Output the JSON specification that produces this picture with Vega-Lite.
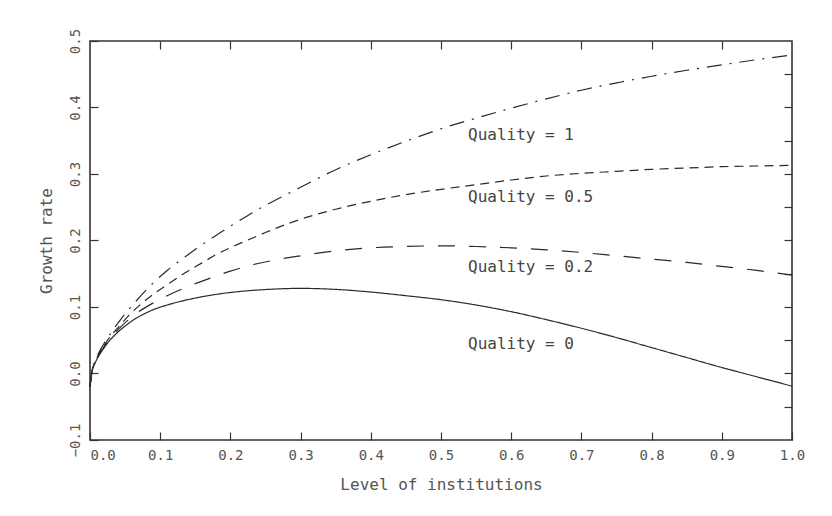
{
  "$schema": "https://vega.github.io/schema/vega-lite/v6.json",
  "width": 702,
  "height": 399,
  "autosize": {"type": "none"},
  "padding": {"left": 90, "top": 41, "right": 40, "bottom": 76},
  "background": "white",
  "config": {
    "view": {"stroke": "#333333", "strokeWidth": 1.6},
    "font": "DejaVu Sans Mono",
    "axis": {
      "grid": false,
      "domain": false,
      "tickSize": -8,
      "tickColor": "#333333",
      "tickWidth": 1.2,
      "labelColor": "#555555",
      "labelFont": "DejaVu Sans Mono",
      "labelFontSize": 14,
      "titleColor": "#555555",
      "titleFont": "DejaVu Sans Mono",
      "titleFontSize": 16,
      "titleFontWeight": "normal"
    }
  },
  "datasets": {
    "curves": [
      {"q": "0", "x": 0, "y": -0.02}, {"q": "0", "x": 0.003, "y": 0.003}, {"q": "0", "x": 0.007, "y": 0.015},
      {"q": "0", "x": 0.014, "y": 0.029}, {"q": "0", "x": 0.021, "y": 0.04}, {"q": "0", "x": 0.03, "y": 0.052},
      {"q": "0", "x": 0.04, "y": 0.0625}, {"q": "0", "x": 0.052, "y": 0.073}, {"q": "0", "x": 0.064, "y": 0.082},
      {"q": "0", "x": 0.076, "y": 0.089}, {"q": "0", "x": 0.088, "y": 0.095}, {"q": "0", "x": 0.11, "y": 0.103},
      {"q": "0", "x": 0.135, "y": 0.11}, {"q": "0", "x": 0.16, "y": 0.1155}, {"q": "0", "x": 0.183, "y": 0.1195},
      {"q": "0", "x": 0.215, "y": 0.1235}, {"q": "0", "x": 0.249, "y": 0.1262}, {"q": "0", "x": 0.3, "y": 0.128},
      {"q": "0", "x": 0.35, "y": 0.1265}, {"q": "0", "x": 0.4, "y": 0.1225},
      {"q": "0", "x": 0.45, "y": 0.117}, {"q": "0", "x": 0.5, "y": 0.111}, {"q": "0", "x": 0.55, "y": 0.103},
      {"q": "0", "x": 0.6, "y": 0.093}, {"q": "0", "x": 0.65, "y": 0.081}, {"q": "0", "x": 0.7, "y": 0.068},
      {"q": "0", "x": 0.75, "y": 0.054}, {"q": "0", "x": 0.8, "y": 0.039}, {"q": "0", "x": 0.85, "y": 0.024},
      {"q": "0", "x": 0.9, "y": 0.009}, {"q": "0", "x": 0.95, "y": -0.005}, {"q": "0", "x": 1.0, "y": -0.019},

      {"q": "0.2", "x": 0, "y": -0.02}, {"q": "0.2", "x": 0.003, "y": 0.004}, {"q": "0.2", "x": 0.007, "y": 0.016},
      {"q": "0.2", "x": 0.014, "y": 0.03}, {"q": "0.2", "x": 0.021, "y": 0.042}, {"q": "0.2", "x": 0.03, "y": 0.054},
      {"q": "0.2", "x": 0.04, "y": 0.066}, {"q": "0.2", "x": 0.055, "y": 0.081}, {"q": "0.2", "x": 0.069, "y": 0.0925},
      {"q": "0.2", "x": 0.09, "y": 0.106}, {"q": "0.2", "x": 0.116, "y": 0.12}, {"q": "0.2", "x": 0.145, "y": 0.133},
      {"q": "0.2", "x": 0.173, "y": 0.144}, {"q": "0.2", "x": 0.2, "y": 0.154}, {"q": "0.2", "x": 0.23, "y": 0.163},
      {"q": "0.2", "x": 0.26, "y": 0.17}, {"q": "0.2", "x": 0.3, "y": 0.177}, {"q": "0.2", "x": 0.347, "y": 0.184},
      {"q": "0.2", "x": 0.4, "y": 0.189}, {"q": "0.2", "x": 0.45, "y": 0.191}, {"q": "0.2", "x": 0.5, "y": 0.192},
      {"q": "0.2", "x": 0.55, "y": 0.191}, {"q": "0.2", "x": 0.6, "y": 0.189}, {"q": "0.2", "x": 0.65, "y": 0.186},
      {"q": "0.2", "x": 0.7, "y": 0.182}, {"q": "0.2", "x": 0.75, "y": 0.177}, {"q": "0.2", "x": 0.8, "y": 0.172},
      {"q": "0.2", "x": 0.85, "y": 0.167}, {"q": "0.2", "x": 0.9, "y": 0.161}, {"q": "0.2", "x": 0.95, "y": 0.155},
      {"q": "0.2", "x": 1.0, "y": 0.148},

      {"q": "0.5", "x": 0, "y": -0.02}, {"q": "0.5", "x": 0.003, "y": 0.005}, {"q": "0.5", "x": 0.007, "y": 0.017},
      {"q": "0.5", "x": 0.014, "y": 0.032}, {"q": "0.5", "x": 0.021, "y": 0.044}, {"q": "0.5", "x": 0.03, "y": 0.057},
      {"q": "0.5", "x": 0.04, "y": 0.069}, {"q": "0.5", "x": 0.055, "y": 0.087}, {"q": "0.5", "x": 0.07, "y": 0.102},
      {"q": "0.5", "x": 0.09, "y": 0.119}, {"q": "0.5", "x": 0.112, "y": 0.135}, {"q": "0.5", "x": 0.135, "y": 0.151},
      {"q": "0.5", "x": 0.159, "y": 0.166}, {"q": "0.5", "x": 0.18, "y": 0.179}, {"q": "0.5", "x": 0.206, "y": 0.192},
      {"q": "0.5", "x": 0.23, "y": 0.203}, {"q": "0.5", "x": 0.25, "y": 0.212}, {"q": "0.5", "x": 0.3, "y": 0.232},
      {"q": "0.5", "x": 0.35, "y": 0.247}, {"q": "0.5", "x": 0.4, "y": 0.259}, {"q": "0.5", "x": 0.45, "y": 0.269},
      {"q": "0.5", "x": 0.5, "y": 0.277}, {"q": "0.5", "x": 0.55, "y": 0.284}, {"q": "0.5", "x": 0.6, "y": 0.291},
      {"q": "0.5", "x": 0.65, "y": 0.297}, {"q": "0.5", "x": 0.7, "y": 0.301}, {"q": "0.5", "x": 0.75, "y": 0.304},
      {"q": "0.5", "x": 0.8, "y": 0.307}, {"q": "0.5", "x": 0.85, "y": 0.309}, {"q": "0.5", "x": 0.9, "y": 0.311},
      {"q": "0.5", "x": 0.95, "y": 0.312}, {"q": "0.5", "x": 1.0, "y": 0.313},

      {"q": "1", "x": 0, "y": -0.02}, {"q": "1", "x": 0.003, "y": 0.005}, {"q": "1", "x": 0.007, "y": 0.018},
      {"q": "1", "x": 0.014, "y": 0.034}, {"q": "1", "x": 0.021, "y": 0.047}, {"q": "1", "x": 0.03, "y": 0.061},
      {"q": "1", "x": 0.04, "y": 0.076}, {"q": "1", "x": 0.055, "y": 0.096}, {"q": "1", "x": 0.07, "y": 0.114},
      {"q": "1", "x": 0.088, "y": 0.134}, {"q": "1", "x": 0.11, "y": 0.155}, {"q": "1", "x": 0.135, "y": 0.175},
      {"q": "1", "x": 0.16, "y": 0.194}, {"q": "1", "x": 0.183, "y": 0.21}, {"q": "1", "x": 0.21, "y": 0.228},
      {"q": "1", "x": 0.24, "y": 0.247}, {"q": "1", "x": 0.27, "y": 0.264}, {"q": "1", "x": 0.3, "y": 0.28},
      {"q": "1", "x": 0.347, "y": 0.305}, {"q": "1", "x": 0.4, "y": 0.329}, {"q": "1", "x": 0.465, "y": 0.355},
      {"q": "1", "x": 0.5, "y": 0.368}, {"q": "1", "x": 0.56, "y": 0.387}, {"q": "1", "x": 0.6, "y": 0.399},
      {"q": "1", "x": 0.65, "y": 0.413}, {"q": "1", "x": 0.7, "y": 0.426}, {"q": "1", "x": 0.755, "y": 0.438},
      {"q": "1", "x": 0.8, "y": 0.447}, {"q": "1", "x": 0.85, "y": 0.456}, {"q": "1", "x": 0.9, "y": 0.464},
      {"q": "1", "x": 0.95, "y": 0.472}, {"q": "1", "x": 1.0, "y": 0.479}
    ],
    "labels": [
      {"x": 0.5385, "y": 0.358, "text": "Quality = 1"},
      {"x": 0.5385, "y": 0.265, "text": "Quality = 0.5"},
      {"x": 0.5385, "y": 0.16, "text": "Quality = 0.2"},
      {"x": 0.5385, "y": 0.045, "text": "Quality = 0"}
    ]
  },
  "layer": [
    {
      "layer": [
        {
          "data": {"name": "curves"},
          "mark": {"type": "line", "interpolate": "monotone", "strokeWidth": 1.2, "color": "#2a2a2a"},
          "encoding": {
            "x": {
              "field": "x", "type": "quantitative",
              "scale": {"domain": [0, 1], "nice": false, "zero": false},
              "axis": {
                "orient": "bottom",
                "values": [0, 0.1, 0.2, 0.3, 0.4, 0.5, 0.6, 0.7, 0.8, 0.9, 1.0],
                "format": ".1f",
                "labelPadding": 16,
                "labelAlign": {"condition": {"test": "datum.value == 0", "value": "left"}, "value": "center"},
                "title": "Level of institutions",
                "titlePadding": 14
              }
            },
            "y": {
              "field": "y", "type": "quantitative",
              "scale": {"domain": [-0.1, 0.5], "nice": false, "zero": false},
              "axis": {
                "orient": "left",
                "values": [-0.1, -0.05, 0, 0.05, 0.1, 0.15, 0.2, 0.25, 0.3, 0.35, 0.4, 0.45, 0.5],
                "labelExpr": "abs(datum.value * 10 - round(datum.value * 10)) < 0.01 ? format(datum.value, '.1f') : ''",
                "labelAngle": -90,
                "labelAlign": "center",
                "labelBaseline": "bottom",
                "labelPadding": 16,
                "title": "Growth rate",
                "titlePadding": 14
              }
            },
            "strokeDash": {
              "field": "q", "type": "nominal",
              "scale": {"domain": ["0", "0.2", "0.5", "1"], "range": [[1, 0], [17, 14], [9, 6], [15, 8, 2, 8]]},
              "legend": null
            }
          }
        },
        {
          "data": {"name": "labels"},
          "mark": {"type": "text", "align": "left", "baseline": "middle", "font": "DejaVu Sans Mono", "fontSize": 16, "color": "#444444"},
          "encoding": {
            "x": {"field": "x", "type": "quantitative"},
            "y": {"field": "y", "type": "quantitative"},
            "text": {"field": "text", "type": "nominal"}
          }
        }
      ]
    },
    {
      "data": {"name": "curves"},
      "mark": {"type": "point", "opacity": 0},
      "encoding": {
        "x": {
          "field": "x", "type": "quantitative",
          "scale": {"domain": [0, 1], "nice": false, "zero": false},
          "axis": {"orient": "top", "values": [0.1, 0.2, 0.3, 0.4, 0.5, 0.6, 0.7, 0.8, 0.9], "labels": false, "title": null}
        },
        "y": {
          "field": "y", "type": "quantitative",
          "scale": {"domain": [-0.1, 0.5], "nice": false, "zero": false},
          "axis": {"orient": "right", "values": [-0.05, 0, 0.05, 0.1, 0.15, 0.2, 0.25, 0.3, 0.35, 0.4, 0.45], "labels": false, "title": null}
        }
      }
    }
  ],
  "resolve": {"scale": {"x": "independent", "y": "independent"}, "axis": {"x": "independent", "y": "independent"}}
}
